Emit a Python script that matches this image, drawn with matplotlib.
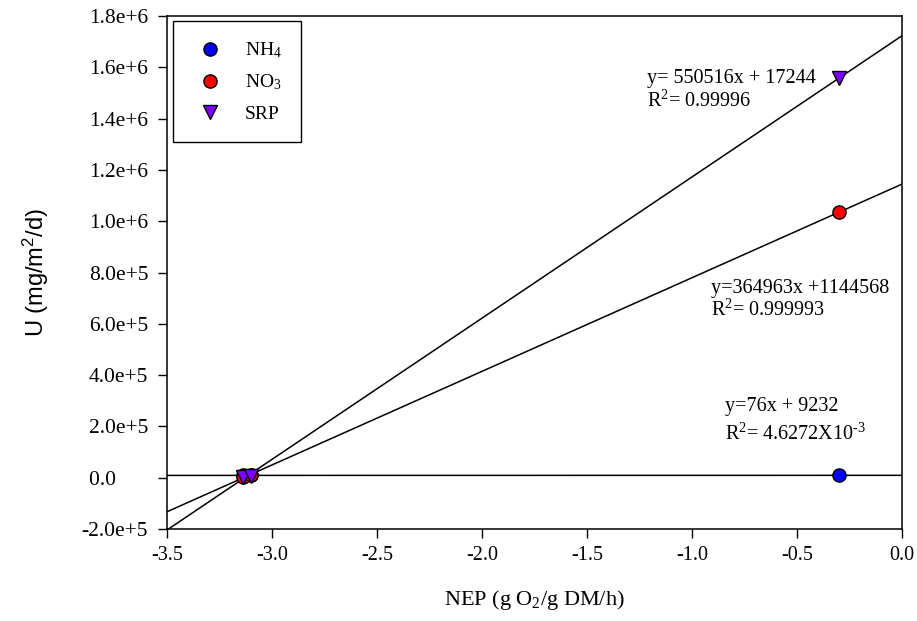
import matplotlib
matplotlib.use("Agg")
import matplotlib.pyplot as plt
import numpy as np

plt.rcParams['font.family'] = ['Liberation Serif', 'DejaVu Serif']
plt.rcParams['mathtext.fontset'] = 'custom'
plt.rcParams['mathtext.rm'] = 'Liberation Serif'
plt.rcParams['mathtext.it'] = 'Liberation Serif:italic'
plt.rcParams['mathtext.sf'] = 'Liberation Sans'
plt.rcParams['axes.unicode_minus'] = False

# ---- data ----
nep_x = [-3.14, -3.10, -0.30]
nh4_y = [9000, 9000, 9210]
no3_y = [2500, 12000, 1035000]
srp_y = [2500, 8000, 1558000]

series_names = ["NH$_4$", "NO$_3$", "SRP"]
series_colors = ["#0000ff", "#ff0000", "#7f00ff"]
series_markers = ["o", "o", "v"]

# fitted lines (slope, intercept) as drawn
fit_slopes = [76, 364963, 550516]
fit_intercepts = [9232, 1144568, 1723000]
fit_x = [-3.5, 0.0]

eq_texts = [
    ("y=76x + 9232", "R$^2$= 4.6272X10$^{\\text{-3}}$"),
    ("y=364963x +1144568", "R$^2$= 0.999993"),
    ("y= 550516x + 17244", "R$^2$= 0.99996"),
]
eq_pos = [(-0.843, 0.26e6, 0.147e6), (-0.911, 0.720e6, 0.630e6), (-1.216, 1.539e6, 1.445e6)]

x_ticks = [-3.5, -3.0, -2.5, -2.0, -1.5, -1.0, -0.5, 0.0]
x_ticklabels = ["-3.5", "-3.0", "-2.5", "-2.0", "-1.5", "-1.0", "-0.5", "0.0"]
y_ticks = [-2e5, 0, 2e5, 4e5, 6e5, 8e5, 1.0e6, 1.2e6, 1.4e6, 1.6e6, 1.8e6]
y_ticklabels = ["-2.0e+5", "0.0\u2007\u2007\u2007", "2.0e+5", "4.0e+5", "6.0e+5", "8.0e+5",
                "1.0e+6", "1.2e+6", "1.4e+6", "1.6e+6", "1.8e+6"]

fig = plt.figure(figsize=(9.17, 6.21), dpi=100)
ax = fig.add_axes([167/917, 1-529/621, 735/917, 513/621])

xs = np.array(fit_x)
for m, b in zip(fit_slopes, fit_intercepts):
    ax.plot(xs, m*xs + b, color='black', lw=1.1, zorder=2)

for ys, name, c, mk in zip([nh4_y, no3_y, srp_y], series_names, series_colors, series_markers):
    ax.plot(nep_x, ys, linestyle='none', marker=mk, markersize=9.5 if mk == 'o' else 10,
            markerfacecolor=c, markeredgecolor='black', markeredgewidth=1.0,
            label=name, zorder=3)

for (l1, l2), (tx, ty1, ty2) in zip(eq_texts, eq_pos):
    ax.text(tx, ty1, l1, fontsize=14.5, va='baseline', ha='left')
    ax.text(tx, ty2, l2, fontsize=14.5, va='baseline', ha='left')

ax.set_xlim(-3.5, 0.0)
ax.set_ylim(-2e5, 1.8e6)
ax.set_xticks(x_ticks)
ax.set_xticklabels(x_ticklabels, fontsize=14.5)
ax.set_yticks(y_ticks)
ax.set_yticklabels(y_ticklabels, fontsize=15.5)
ax.tick_params(axis='both', direction='out', length=6.5, width=1.0, color='black')
ax.tick_params(axis='x', pad=6)
ax.tick_params(axis='y', pad=7)
for s in ax.spines.values():
    s.set_linewidth(1.1)

ax.set_xlabel("NEP (g O$_2$/g DM/h)", fontsize=16, labelpad=16)
ax.set_ylabel("U (mg/m$\\mathsf{^2}$/d)", fontsize=17, family='Liberation Sans', labelpad=22)

leg = ax.legend(loc='upper left', bbox_to_anchor=(5.7/735, 1-5/513), borderaxespad=0,
                frameon=True, fancybox=False, edgecolor='black', framealpha=1,
                fontsize=14, handlelength=1.8, handletextpad=0.9, labelspacing=0.65,
                borderpad=1.0)
leg.get_frame().set_linewidth(1.0)

fig.savefig("out.png", dpi=100)
